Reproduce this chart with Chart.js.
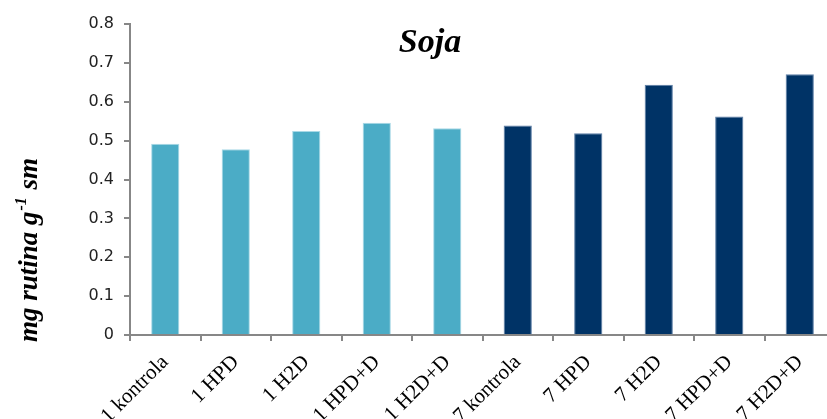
<!DOCTYPE html>
<html>
<head>
<meta charset="utf-8">
<script src="https://cdn.jsdelivr.net/npm/chart.js@4/dist/chart.umd.min.js"></script>
<style>
html,body{margin:0;padding:0;background:#fff;overflow:hidden;}
#wrap{position:relative;width:835px;height:419px;}
</style>
</head>
<body>
<div id="wrap"><canvas id="c"></canvas></div>
<script>
const categories = ['1 kontrola','1 HPD','1 H2D','1 HPD+D','1 H2D+D','7 kontrola','7 HPD','7 H2D','7 HPD+D','7 H2D+D'];
const values = [0.492, 0.478, 0.525, 0.546, 0.532, 0.539, 0.519, 0.644, 0.562, 0.671];
const groupDay = [1,1,1,1,1,7,7,7,7,7];
const yTicks = [0,0.1,0.2,0.3,0.4,0.5,0.6,0.7,0.8];
const chartTitle = 'Soja';
const yTitleMain = 'mg rutina g';
const yTitleSup = '-1';
const yTitleEnd = ' sm';

const colorDay1 = '#4BACC6', colorDay7 = '#003366';
const borderDay1 = '#A9D9E6', borderDay7 = '#5C7EA6';
const axisColor = '#878787';

const titlePlugin = {
  id: 'customTexts',
  afterDraw(chart) {
    const ctx = chart.ctx;
    ctx.save();
    ctx.fillStyle = '#000';
    ctx.font = 'italic bold 34px "Liberation Serif"';
    ctx.textAlign = 'center';
    ctx.textBaseline = 'alphabetic';
    ctx.fillText(chartTitle, 430, 52);
    // y title
    ctx.translate(37, 250);
    ctx.rotate(-Math.PI/2);
    const fMain = 'italic bold 27px "Liberation Serif"';
    const fSup = 'italic bold 16px "Liberation Serif"';
    ctx.font = fMain; const w1 = ctx.measureText(yTitleMain).width;
    const w3 = ctx.measureText(yTitleEnd).width;
    ctx.font = fSup; const w2 = ctx.measureText(yTitleSup).width + 2;
    let x = -(w1+w2+w3)/2;
    ctx.textAlign = 'left';
    ctx.font = fMain; ctx.fillText(yTitleMain, x, 0); x += w1 + 1;
    ctx.font = fSup; ctx.fillText(yTitleSup, x, -11); x += w2 - 1;
    ctx.font = fMain; ctx.fillText(yTitleEnd, x, 0);
    ctx.restore();
  }
};

new Chart(document.getElementById('c'), {
  type: 'bar',
  data: {
    labels: categories,
    datasets: [{
      data: values,
      backgroundColor: groupDay.map(d => d === 1 ? colorDay1 : colorDay7),
      borderColor: groupDay.map(d => d === 1 ? borderDay1 : borderDay7),
      borderWidth: 1,
      barPercentage: 0.4,
      categoryPercentage: 1.0
    }]
  },
  options: {
    responsive: true,
    maintainAspectRatio: false,
    animation: false,
    layout: { padding: { top: 24, left: 0, right: 0, bottom: 0 } },
    plugins: { legend: { display: false }, tooltip: { enabled: false }, title: { display: false } },
    scales: {
      x: {
        afterFit(s) { s.height = 84; },
        grid: { drawOnChartArea: false, offset: true, tickLength: 6, color: axisColor, lineWidth: 2 },
        border: { color: axisColor, width: 2 },
        ticks: {
          minRotation: 45, maxRotation: 45, autoSkip: false, padding: 9,
          color: '#000',
          font: { family: '"Liberation Serif"', size: 21 }
        }
      },
      y: {
        min: 0, max: 0.8,
        afterFit(s) { s.width = 130; },
        afterBuildTicks(s) { s.ticks = yTicks.map(v => ({ value: v })); },
        grid: { drawOnChartArea: false, tickLength: 6, color: axisColor, lineWidth: 2 },
        border: { color: axisColor, width: 2 },
        ticks: {
          padding: 10, color: '#222',
          font: { family: '"DejaVu Sans"', size: 16 },
          callback: v => v === 0 ? '0' : v.toFixed(1)
        }
      }
    }
  },
  plugins: [titlePlugin]
});
</script>
</body>
</html>
